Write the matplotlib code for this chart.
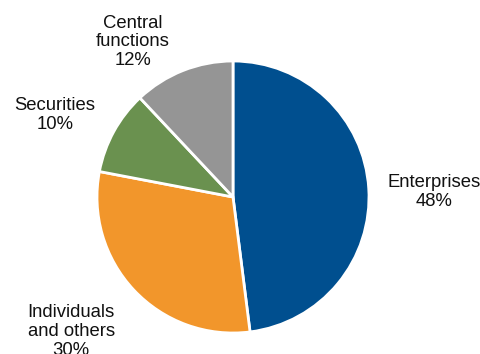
import matplotlib
matplotlib.use("Agg")
import matplotlib.pyplot as plt

plt.rcParams['font.family'] = ['Liberation Sans', 'DejaVu Sans']

segments = ["Enterprises", "Individuals\nand others", "Securities", "Central\nfunctions"]
shares = [48, 30, 10, 12]
colors = ['#004F8F', '#F2962B', '#6A914F', '#959595']

# label anchor points (pie radius units)
label_xy = [(1.48, 0.04), (-1.19, -0.99), (-1.31, 0.60), (-0.735, 1.14)]

W, H = 480, 354
cx, cy, r = 233, 197, 136

fig = plt.figure(figsize=(W / 100, H / 100), dpi=100)
ax = fig.add_axes([(cx - r) / W, (H - cy - r) / H, 2 * r / W, 2 * r / H])

wedges, _ = ax.pie(shares, colors=colors, startangle=90, counterclock=False,
                   wedgeprops=dict(edgecolor='white', linewidth=2))
for w in wedges:
    w.set_clip_on(False)
ax.set_xlim(-1, 1)
ax.set_ylim(-1, 1)
ax.set_aspect('equal')
ax.axis('off')

for name, val, (x, y) in zip(segments, shares, label_xy):
    ax.text(x, y, f"{name}\n{val}%", ha='center', va='center', fontsize=13.3,
            color='#111111', linespacing=1.15, clip_on=False)

fig.savefig("out.png", dpi=100)
